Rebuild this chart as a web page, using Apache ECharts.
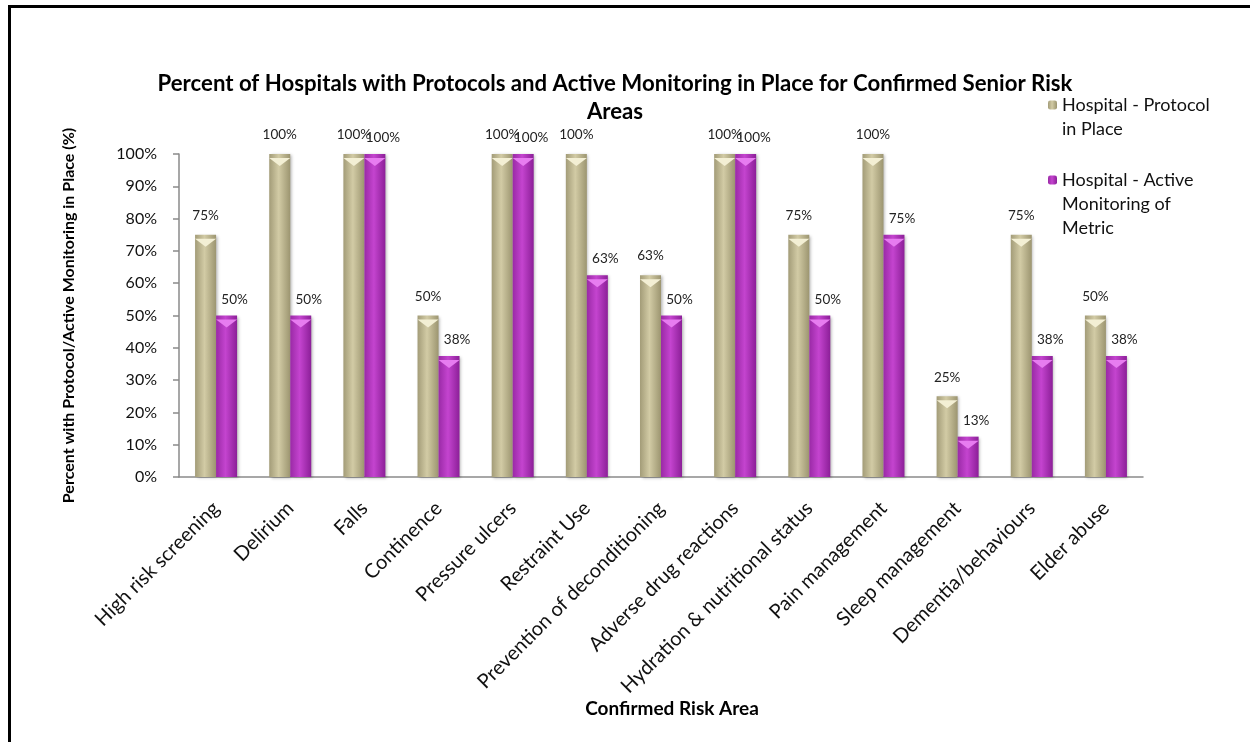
<!DOCTYPE html>
<html>
<head>
<meta charset="utf-8">
<script src="https://cdn.jsdelivr.net/npm/echarts@6/dist/echarts.min.js"></script>
<style>
  html, body { margin: 0; padding: 0; background: #fff; }
  #main { width: 1250px; height: 742px; }
</style>
</head>
<body>
<div id="main"></div>
<script>
  const categories = ['High risk screening', 'Delirium', 'Falls', 'Continence', 'Pressure ulcers', 'Restraint Use',
    'Prevention of deconditioning', 'Adverse drug reactions', 'Hydration & nutritional status', 'Pain management',
    'Sleep management', 'Dementia/behaviours', 'Elder abuse']
  const protocolInPlace = [75, 100, 100, 50, 100, 100, 62.5, 100, 75, 100, 25, 75, 50]
  const activeMonitoring = [50, 50, 100, 37.5, 100, 62.5, 50, 100, 50, 75, 12.5, 37.5, 37.5]
  const seriesNames = ['Hospital - Protocol in Place', 'Hospital - Active Monitoring of Metric']
  // leading blank lines keep the legend swatch level with the first text line
  const legendLabels = ['\nHospital - Protocol\nin Place', '\n\nHospital - Active\nMonitoring of\nMetric']

  const font = 'Lato, "Open Sans", sans-serif'
  const chart = echarts.init(document.getElementById('main'))

  const khaki = {
    type: 'linear', x: 0, y: 0, x2: 1, y2: 0,
    colorStops: [
      {offset: 0, color: '#a39c78'},
      {offset: 0.45, color: '#d2cba5'},
      {offset: 1, color: '#9c9570'}
    ]
  }
  const purple = {
    type: 'linear', x: 0, y: 0, x2: 1, y2: 0,
    colorStops: [
      {offset: 0, color: '#9a2aa6'},
      {offset: 0.45, color: '#c444cf'},
      {offset: 1, color: '#8c1f98'}
    ]
  }

  const barLabel = (dx, dy) => ({
    show: true,
    position: 'top',
    distance: 12,
    offset: [dx, dy],
    fontFamily: font,
    fontSize: 13.5,
    color: '#222',
    formatter: (p) => Math.round(p.value) + '%'
  })

  const tip = (color) => ({
    type: 'pictorialBar',
    symbol: 'path://M0,0 L10,0 L5,4 Z',
    symbolSize: [21, 8],
    symbolPosition: 'end',
    symbolOffset: [0, '50%'],
    barWidth: 21,
    barGap: '0%',
    silent: true,
    itemStyle: {color: color},
    z: 3
  })

  const legendItem = (i, top) => ({
    orient: 'vertical',
    left: 1048,
    top: top,
    padding: 0,
    itemWidth: 9,
    itemHeight: 9,
    data: [seriesNames[i]],
    formatter: () => legendLabels[i],
    textStyle: {fontFamily: font, fontSize: 18, color: '#111', lineHeight: 24}
  })

  const option = {
    animation: false,
    title: {
      text: 'Percent of Hospitals with Protocols and Active Monitoring in Place for Confirmed Senior Risk\nAreas',
      left: 610,
      top: 65,
      textAlign: 'center',
      textStyle: {fontFamily: font, fontSize: 22.2, fontWeight: 'bold', color: '#000', lineHeight: 28}
    },
    legend: [legendItem(0, 69), legendItem(1, 120)],
    grid: {left: 179, right: 107, top: 154, bottom: 265},
    xAxis: {
      type: 'category',
      data: categories,
      name: 'Confirmed Risk Area',
      nameLocation: 'middle',
      nameGap: 218,
      nameTextStyle: {fontFamily: font, fontSize: 19, fontWeight: 'bold', color: '#000', padding: [0, 0, 0, 22]},
      axisLine: {lineStyle: {color: '#8a8a8a', width: 1.5}},
      axisTick: {length: 6, lineStyle: {color: '#8a8a8a', width: 1.5}},
      axisLabel: {rotate: 45, margin: 28, fontFamily: font, fontSize: 20, color: '#111', interval: 0}
    },
    yAxis: {
      type: 'value',
      min: 0,
      max: 100,
      interval: 10,
      name: 'Percent with Protocol/Active Monitoring in Place (%)',
      nameLocation: 'middle',
      nameGap: 102,
      nameTextStyle: {fontFamily: font, fontSize: 16, fontWeight: 'bold', color: '#000'},
      axisLine: {show: true, lineStyle: {color: '#8a8a8a', width: 1.5}},
      axisTick: {show: true, length: 6, lineStyle: {color: '#8a8a8a', width: 1.5}},
      splitLine: {show: false},
      axisLabel: {formatter: '{value}%', margin: 22, fontFamily: font, fontSize: 16, color: '#111'}
    },
    series: [
      {
        name: seriesNames[0],
        type: 'bar',
        data: protocolInPlace,
        barWidth: 21,
        barGap: '0%',
        itemStyle: {color: khaki, shadowColor: 'rgba(0,0,0,0.3)', shadowBlur: 3, shadowOffsetX: 1.5, shadowOffsetY: 1},
        label: barLabel(0, 0)
      },
      {
        name: seriesNames[1],
        type: 'bar',
        data: activeMonitoring,
        barWidth: 21,
        barGap: '0%',
        itemStyle: {color: purple, shadowColor: 'rgba(0,0,0,0.3)', shadowBlur: 3, shadowOffsetX: 1.5, shadowOffsetY: 1},
        label: barLabel(8, 3)
      },
      Object.assign(tip('#f3efd4'), {data: protocolInPlace}),
      Object.assign(tip('#e77cf0'), {data: activeMonitoring})
    ],
    graphic: [
      {type: 'line', shape: {x1: 8, y1: 6.5, x2: 1250, y2: 6.5}, style: {stroke: '#000', lineWidth: 3}},
      {type: 'line', shape: {x1: 9.5, y1: 5, x2: 9.5, y2: 742}, style: {stroke: '#000', lineWidth: 3}}
    ]
  }

  chart.setOption(option)
</script>
</body>
</html>
